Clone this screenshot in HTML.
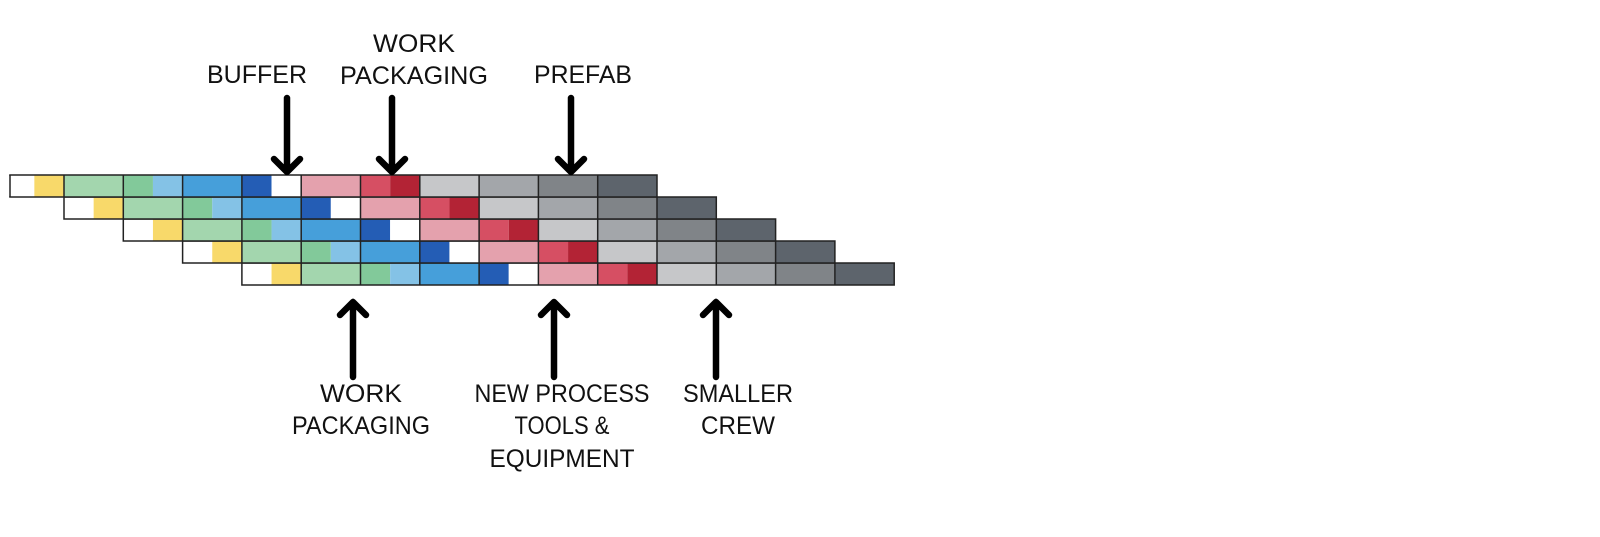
<!DOCTYPE html>
<html><head><meta charset="utf-8"><style>
html,body{margin:0;padding:0;background:#fff;}
svg{display:block;}
text{font-family:"Liberation Sans",sans-serif;font-size:25px;fill:#111;text-anchor:middle;}
</style></head><body>
<svg width="1600" height="537" viewBox="0 0 1600 537" xmlns="http://www.w3.org/2000/svg">
<defs>
<g id="row" stroke="none">
  <rect x="0" y="0" width="29.65" height="22" fill="#ffffff"/>
  <rect x="29.65" y="0" width="29.65" height="22" fill="#f8d96a"/>
  <rect x="59.3" y="0" width="59.3" height="22" fill="#a3d6ae"/>
  <rect x="118.6" y="0" width="29.65" height="22" fill="#82c99a"/>
  <rect x="148.25" y="0" width="29.65" height="22" fill="#84c2e6"/>
  <rect x="177.9" y="0" width="59.3" height="22" fill="#469fda"/>
  <rect x="237.2" y="0" width="29.65" height="22" fill="#245db5"/>
  <rect x="266.85" y="0" width="29.65" height="22" fill="#ffffff"/>
  <rect x="296.5" y="0" width="59.3" height="22" fill="#e4a1ad"/>
  <rect x="355.8" y="0" width="29.65" height="22" fill="#d64f63"/>
  <rect x="385.45" y="0" width="29.65" height="22" fill="#b32335"/>
  <rect x="415.1" y="0" width="59.3" height="22" fill="#c6c7c9"/>
  <rect x="474.4" y="0" width="59.3" height="22" fill="#a3a6aa"/>
  <rect x="533.7" y="0" width="59.3" height="22" fill="#808488"/>
  <rect x="593" y="0" width="59.3" height="22" fill="#5d646c"/>
  <g fill="none" stroke="#222" stroke-width="1.5">
    <rect x="0" y="0" width="652.3" height="22"/>
    <path d="M59.3 0V22M118.6 0V22M177.9 0V22M237.2 0V22M296.5 0V22M355.8 0V22M415.1 0V22M474.4 0V22M533.7 0V22M593 0V22"/>
  </g>
</g>
</defs>
<use href="#row" x="241.9" y="263"/>
<use href="#row" x="182.6" y="241"/>
<use href="#row" x="123.3" y="219"/>
<use href="#row" x="64" y="197"/>
<use href="#row" x="4.7" y="175"/>
<rect x="0" y="170" width="9.2" height="30" fill="#fff"/>
<path d="M10 175V197" stroke="#222" stroke-width="1.5"/>

<g stroke="#000" stroke-width="6.5" fill="none" stroke-linecap="round" stroke-linejoin="round">
  <path d="M287 98V172M274 159L287 172L300 159"/>
  <path d="M392 98V172M379 159L392 172L405 159"/>
  <path d="M571 98V172M558 159L571 172L584 159"/>
  <path d="M353 377V302M340 315L353 302L366 315"/>
  <path d="M554 377V302M541 315L554 302L567 315"/>
  <path d="M716 377V302M703 315L716 302L729 315"/>
</g>

<text x="257" y="83" textLength="100" lengthAdjust="spacingAndGlyphs">BUFFER</text>
<text x="414" y="52" textLength="82" lengthAdjust="spacingAndGlyphs">WORK</text>
<text x="414" y="84" textLength="148" lengthAdjust="spacingAndGlyphs">PACKAGING</text>
<text x="583" y="83" textLength="98" lengthAdjust="spacingAndGlyphs">PREFAB</text>
<text x="361" y="402" textLength="82" lengthAdjust="spacingAndGlyphs">WORK</text>
<text x="361" y="434" textLength="138" lengthAdjust="spacingAndGlyphs">PACKAGING</text>
<text x="562" y="402" textLength="175" lengthAdjust="spacingAndGlyphs">NEW PROCESS</text>
<text x="562" y="434" textLength="95" lengthAdjust="spacingAndGlyphs">TOOLS &amp;</text>
<text x="562" y="467" textLength="145" lengthAdjust="spacingAndGlyphs">EQUIPMENT</text>
<text x="738" y="402" textLength="110" lengthAdjust="spacingAndGlyphs">SMALLER</text>
<text x="738" y="434" textLength="74" lengthAdjust="spacingAndGlyphs">CREW</text>
</svg>
</body></html>
